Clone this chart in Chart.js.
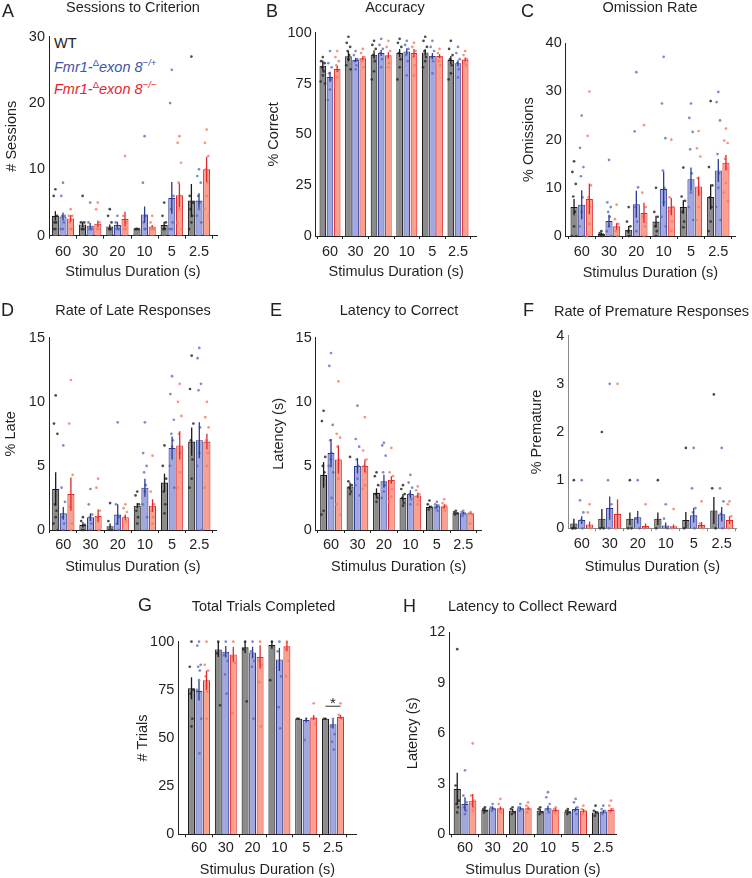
<!DOCTYPE html>
<html><head><meta charset="utf-8">
<script src="https://cdn.jsdelivr.net/npm/chart.js@4.4.1/dist/chart.umd.min.js"></script>
<style>
html,body{margin:0;padding:0;background:#fff}
body{width:752px;height:878px;position:relative;overflow:hidden;font-family:"Liberation Sans",Arial,Helvetica,sans-serif}
canvas{position:absolute}
.letter{position:absolute;font-size:18px;line-height:18px;color:#222}
.leg{position:absolute;font-size:14.5px;line-height:14.5px;white-space:nowrap}
.leg sup{font-size:9.5px;vertical-align:6px;line-height:0}
</style></head><body>
<div class="leg" style="left:54px;top:36px;color:#222">WT</div>
<div class="leg" style="left:54px;top:60px;color:#3d56a8"><i>Fmr1-</i><sup>&Delta;</sup><i>exon 8</i><sup><i>&minus;/+</i></sup></div>
<div class="leg" style="left:54px;top:82px;color:#e3262c"><i>Fmr1-</i><sup>&Delta;</sup><i>exon 8</i><sup><i>&minus;/&minus;</i></sup></div>
<script>
// ---------- data ----------
const durations = ['60', '30', '20', '10', '5', '2.5'];
const genotypes = ['WT', 'Fmr1-\u0394exon 8\u2212/+', 'Fmr1-\u0394exon 8\u2212/\u2212'];

// A: Sessions to criterion  (rows: WT, -/+, -/-)
const sessionsMean = [[3.0,1.7,1.4,1.1,1.6,5.3],[2.9,1.5,1.6,3.2,5.7,5.3],[2.6,1.8,2.5,1.4,6.1,10.0]];
const sessionsSem  = [[0.7,0.4,0.3,0.1,0.5,2.5],[0.6,0.4,0.5,1.2,2.4,1.1],[0.5,0.5,1.1,0.2,1.8,1.9]];
const sessionsDots = [
  [[7,6,3,2,2,1,1],[6,2,2,1,1,1],[4,3,2,1,1,1],[1,1,1,1],[5,3,2,1,1,1],[27,6,5,4,3,2,1]],
  [[8,6,3,3,2,1,1],[5,2,1,1,1],[3,2,1,1,1],[15,8,3,2,1,1],[25,20,6,4,2,1,1],[10,9,8,6,5,4,3,2]],
  [[4,3,3,2,1,1],[5,4,2,1,1],[12,3,2,1,1],[3,2,1,1,1],[15,14,11,8,6,4,2,1],[16,14,12,10,8,6,4,3]]];

// B: Accuracy
const accMean = [[83.8,88.4,89.2,90.0,90.3,86.6],[78.3,86.6,90.0,90.8,88.5,85.0],[82.2,87.4,88.9,90.0,88.5,86.8]];
const accSem  = [[2.5,2.5,2.0,2.0,1.5,2.0],[2.5,1.0,1.5,1.5,1.5,1.5],[1.5,1.0,1.5,2.0,1.0,1.0]];
const accDots = [
  [[88,86,85,83,81,79,76,75],[98,95,93,91,89,87,84,82],[96,94,92,89,86,81,77],[97,95,93,90,87,83,77],[98,96,93,91,88,86,83],[96,92,89,87,84,80,77]],
  [[91,85,83,80,77,72,67],[91,89,87,86,84,82],[97,94,92,90,87,83],[96,94,92,89,86,79],[96,93,91,88,86,80],[93,90,87,85,82,78]],
  [[91,88,86,84,81,78,74],[92,90,88,86,83],[96,93,91,88,85,83],[95,93,91,88,84,79],[92,90,88,86,84],[91,89,87,85,84]]];

// C: Omission rate
const omMean = [[6.0,0.4,1.3,3.0,6.0,8.1],[6.5,3.1,6.6,9.8,11.8,13.6],[7.7,2.0,4.8,6.1,10.3,15.2]];
const omSem  = [[1.7,0.3,0.8,1.2,1.4,2.6],[3.0,1.3,2.8,3.6,2.4,2.4],[3.2,0.7,2.1,1.8,2.0,1.6]];
const omDots = [
  [[15.5,13.3,10.8,8.2,5,2,0,0],[1,0.6,0.3,0,0],[6,3,2,1,0,0],[10,5,4,2,1,0],[14.2,8.2,7.3,5,3,1.8],[28,14.3,10.5,8,6,3,1]],
  [[25,18.3,14.3,12.4,8,5,2,0],[15.8,7,6,5,4,2,1,0],[34,21.7,10.1,6,3,1],[37.2,27.5,20.3,13.6,10,7,4,2],[27.5,24.5,21.6,18,13,9,6,3.3],[29.9,27.8,24,17,13,10,6,3.3]],
  [[30,20.8,10.5,8,6,2.5,0],[6.5,3.5,2.5,1,0],[23,9,6,4,2,0],[20,8,6,5,3,1],[21.8,18.2,16.5,12,9,6,3.3],[22.3,19.8,19.3,16,14,11,9,7.2]]];

// D: Rate of late responses
const lateMean = [[3.2,0.4,0.3,1.9,3.7,6.9],[1.3,1.0,1.2,3.3,6.4,7.0],[2.8,1.1,1.0,1.9,6.6,6.9]];
const lateSem  = [[1.3,0.2,0.2,0.2,0.7,1.1],[0.5,0.3,0.8,0.7,0.9,1.4],[1.3,0.5,0.2,0.5,1.1,0.6]];
const lateDots = [
  [[10.5,8.3,7.5,2,1.5,1,0.5,0],[1,0.7,0.4,0,0],[2.1,0.7,0,0],[3,2.7,2,1.5,1,0.5],[6.6,5,4,3,2,1.3],[13.6,11,8.3,7,5.5,4,3.3]],
  [[6.6,3.3,2.2,1,0.5,0],[3.2,2,1.2,1,0.5,0],[8.4,2,1,0.5,0],[8.4,6,5,4.5,3.5,3,2,1],[12,10.6,8.6,7.5,7,6.5,5,3.3],[14.2,13.4,11.4,10.9,8,6,5,0]],
  [[11.7,8.3,4.3,1.8,0.5,0],[4,3.3,1.5,1,0],[2,1.7,1.4,1,0.7],[5.8,3,2,1.5,1,0.5],[11.4,10,8.9,7.5,6,4.5,3.3],[10,8.8,8,7,6,5,3.3]]];

// E: Latency to correct
const latMean = [[4.3,3.4,2.9,2.5,1.8,1.35],[6.0,5.0,3.8,2.8,1.85,1.3],[5.5,5.0,3.9,2.7,1.85,1.3]];
const latSem  = [[1.0,0.3,0.35,0.3,0.1,0.05],[1.1,0.6,0.5,0.3,0.15,0.1],[1.1,0.5,0.3,0.2,0.15,0.05]];
const latDots = [
  [[9.3,8.5,5.7,5,4.5,1.5,1.2],[5.7,3.8,3.5,3.3,3,2.8],[4.5,4.2,3.5,2.8,2.5,2.2],[3.5,3.2,2.8,2.5,2.1,1.9],[2.3,2,1.8,1.6],[1.5,1.4,1.3,1.2]],
  [[13.8,12.8,8.2,7,6,5.5,5,4.5,2.5],[9.7,7.1,6.5,5.5,5,4,3.5,2.7],[6.8,6.6,5.8,4.5,3.5,3,2.5],[4.3,3.7,3.3,2.8,2.4,2],[2.2,2,1.9,1.7,1.5],[1.5,1.4,1.3,1.1]],
  [[11.6,7.5,7.2,6.5,5.5,4,2,1.2],[8.8,6.2,5.5,5,4.5,3.5,3.2],[6.4,4.5,4.2,3.8,3.2,2.6,2.2],[3.4,3.1,2.8,2.6,2.3,2],[2.4,2.1,1.9,1.7,1.5],[1.4,1.3,1.2,0.5]]];

// F: Rate of premature responses
const preMean = [[0.1,0.2,0.2,0.2,0.17,0.37],[0.17,0.42,0.23,0.06,0.27,0.29],[0.08,0.3,0.05,0.04,0.07,0.17]];
const preSem  = [[0.1,0.2,0.13,0.13,0.17,0.28],[0.08,0.24,0.13,0.06,0.15,0.15],[0.06,0.3,0.05,0.04,0.06,0.08]];
const preDots = [
  [[1,0,0,0],[2,0,0],[1,0,0],[1,0],[1.67,0],[2.78,0.83,0]],
  [[1,0.58,0.33,0.17,0],[3,1,0.5,0],[1,0.2,0],[0.5,0.2,0],[1.67,0.83,0.42,0.33,0],[1.67,0.83,0.56,0.3,0]],
  [[0.5,0.33,0],[3,0],[0.5,0],[0.4,0],[0.56,0.1,0],[0.56,0.5,0.25,0]]];

// G: Total trials completed
const trialsMean = [[75.8,96.0,97.1,98.3,60.0,60.0],[74.5,94.8,94.4,90.8,59.3,57.2],[80.0,93.4,92.1,97.6,60.6,61.0]];
const trialsSem  = [[5.7,4,3,2,0.3,0.4],[5,3,3,6,1.2,2.3],[5,4,6,2.5,1.3,1]];
const trialsDots = [
  [[100,87,75,73,60,56],[100,94,67],[100,96,69],[100,80],[60,60],[60,60]],
  [[100,98,88,87,85,80,75,60,42],[100,93,90,83,73],[100,95,90,87,60],[100,95,82,66,55],[60,49],[60,56,52,48,44]],
  [[100,88,85,82,74,60],[100,92,89,63],[100,90,88,79,56],[100,96,90,82],[68,60,57],[68,62,60]]];
const trialsSig = {category: 5, from: 0, to: 2, value: 66.5, mark: '*'};

// H: Latency to collect reward
const rewMean = [[2.7,1.45,1.4,1.4,1.35,1.3],[1.8,1.55,1.55,1.55,1.5,1.35],[2.0,1.55,1.55,1.45,1.4,1.45]];
const rewSem  = [[0.95,0.1,0.1,0.1,0.1,0.1],[0.4,0.1,0.1,0.15,0.1,0.1],[0.4,0.1,0.1,0.1,0.1,0.1]];
const rewDots = [
  [[11,2.9,2,1.8,1.6,1.3],[1.6,1.5,1.4,1.3],[1.6,1.5,1.3,1.2],[1.6,1.5,1.3,1.2],[1.5,1.4,1.3,1.2],[1.7,1.4,1.3,1.1]],
  [[3.8,2.3,1.9,1.6,1.4,1.2],[1.8,1.6,1.5,1.4],[1.8,1.6,1.5,1.4],[2.5,2.2,1.8,1.5,1.3],[2.1,1.9,1.6,1.4,1.2],[1.7,1.5,1.4,1.2]],
  [[5.4,2.3,2,1.8,1.6,1.4],[2.1,1.8,1.5,1.4,1.3],[1.9,1.7,1.5,1.3],[1.6,1.5,1.4,1.3],[1.7,1.5,1.4,1.2],[2,1.7,1.5,1.3]]];

// ---------- style ----------
const FONT = '"Liberation Sans", Arial, Helvetica, sans-serif';
const FS = 14.5;
const TXT = '#231f20';
const fillColors = ['#8b8b8b', '#a3a7e0', '#f9a18e'];
const edgeColors = ['#1a1a1a', '#2b3a8f', '#e3262c'];
const dotColors  = ['rgba(45,45,45,0.85)', 'rgba(85,100,185,0.75)', 'rgba(242,122,98,0.8)'];

const panels = [
  {letter:'A', title:'Sessions to Criterion', yTitle:'# Sessions', yMax:30, yStep:10, mean:sessionsMean, sem:sessionsSem, dots:sessionsDots,
   box:{axL:49, axR:217, top:36.7, bot:235.7, c0:63, c5:199, titleX:133, titleY:8, tickY:252, xTitleY:272, yTitleX:12}, lp:[2,4]},
  {letter:'B', title:'Accuracy', yTitle:'% Correct', yMax:100, yStep:25, mean:accMean, sem:accSem, dots:accDots,
   box:{axL:315.7, axR:476.7, top:32.7, bot:236, c0:330, c5:458, titleX:395, titleY:8.3, tickY:252, xTitleY:272, yTitleX:273.7}, lp:[266,4]},
  {letter:'C', title:'Omission Rate', yTitle:'% Omissions', yMax:40, yStep:10, mean:omMean, sem:omSem, dots:omDots,
   box:{axL:565.7, axR:735, top:43.3, bot:236, c0:581.7, c5:718.3, titleX:650, titleY:8, tickY:252, xTitleY:272.5, yTitleX:529}, lp:[521,4]},
  {letter:'D', title:'Rate of Late Responses', yTitle:'% Late', yMax:15, yStep:5, mean:lateMean, sem:lateSem, dots:lateDots,
   box:{axL:49, axR:216.7, top:337.7, bot:530, c0:63.3, c5:199.3, titleX:133, titleY:310.7, tickY:545, xTitleY:566.7, yTitleX:11}, lp:[1,303]},
  {letter:'E', title:'Latency to Correct', yTitle:'Latency (s)', yMax:15, yStep:5, mean:latMean, sem:latSem, dots:latDots,
   box:{axL:315.7, axR:481.7, top:337.7, bot:530, c0:331, c5:463.3, titleX:399, titleY:310.7, tickY:545, xTitleY:566.7, yTitleX:279}, lp:[270,303]},
  {letter:'F', title:'Rate of Premature Responses', yTitle:'% Premature', yMax:4, yStep:1, mean:preMean, sem:preSem, dots:preDots, axisColor:'#8a8a8a',
   box:{axL:568.3, axR:736.7, top:335.7, bot:528.3, c0:581.7, c5:721.7, titleX:651.7, titleY:311.7, tickY:544, xTitleY:566.7, yTitleX:536.7}, lp:[523,303]},
  {letter:'G', title:'Total Trials Completed', yTitle:'# Trials', yMax:100, yStep:25, mean:trialsMean, sem:trialsSem, dots:trialsDots, sig:trialsSig,
   box:{axL:178.3, axR:356.7, top:641.7, bot:834.3, c0:199, c5:333, titleX:263.3, titleY:606.7, tickY:848.3, xTitleY:870, yTitleX:143.3}, lp:[138,598]},
  {letter:'H', title:'Latency to Collect Reward', yTitle:'Latency (s)', yMax:12, yStep:3, mean:rewMean, sem:rewSem, dots:rewDots,
   box:{axL:449.3, axR:616.7, top:632.3, bot:834.3, c0:465, c5:603.3, titleX:532.3, titleY:606.7, tickY:848.3, xTitleY:870, yTitleX:412.7}, lp:[403,599]}
];

const jitter = [0, -1.7, 1.7, -0.8, 0.8, 0, -2.2, 2.2, 0.4];

function overlay(p) {
  return {
    id: 'overlay' + p.letter,
    afterDatasetsDraw(chart) {
      const ctx = chart.ctx, ys = chart.scales.y;
      ctx.save();
      for (let k = 0; k < 3; k++) {
        const meta = chart.getDatasetMeta(k);
        meta.data.forEach((bar, i) => {
          ctx.fillStyle = dotColors[k];
          p.dots[k][i].forEach((v, j) => {
            ctx.beginPath();
            ctx.arc(bar.x + jitter[j % jitter.length], ys.getPixelForValue(v), 1.35, 0, Math.PI * 2);
            ctx.fill();
          });
          const m = p.mean[k][i], s = p.sem[k][i];
          ctx.strokeStyle = edgeColors[k];
          ctx.lineWidth = 1.3;
          ctx.beginPath();
          ctx.moveTo(bar.x, ys.getPixelForValue(Math.max(0, m - s)));
          ctx.lineTo(bar.x, ys.getPixelForValue(m + s));
          ctx.stroke();
        });
      }
      if (p.sig) {
        const a = chart.getDatasetMeta(p.sig.from).data[p.sig.category];
        const b = chart.getDatasetMeta(p.sig.to).data[p.sig.category];
        const yy = ys.getPixelForValue(p.sig.value);
        ctx.strokeStyle = '#333'; ctx.lineWidth = 1;
        ctx.beginPath(); ctx.moveTo(a.x, yy); ctx.lineTo(b.x, yy); ctx.stroke();
        ctx.fillStyle = TXT; ctx.font = '15px ' + FONT; ctx.textAlign = 'center'; ctx.textBaseline = 'alphabetic';
        ctx.fillText(p.sig.mark, (a.x + b.x) / 2, yy + 1.5);
      }
      ctx.restore();
    }
  };
}

const lh = FS * 1.2;
panels.forEach(p => {
  const b = p.box;
  const sp = (b.c5 - b.c0) / 5;
  const xMin = -(b.c0 - b.axL) / sp, xMax = 5 + (b.axR - b.c5) / sp;
  const cl = Math.floor(b.yTitleX - lh / 2);
  const ct = Math.floor(b.titleY - lh / 2);
  const W = Math.max(Math.round(2 * (b.titleX - cl)), Math.ceil(b.axR - cl) + 2);
  const H = Math.ceil(b.xTitleY + lh / 2 - ct) + 1;
  const yAxisW = b.axL - cl;
  const rightW = cl + W - b.axR;
  const titleTop = b.titleY - lh / 2 - ct;
  const titleBottom = b.top - b.titleY - lh / 2;
  const xAxisH = ct + H - b.bot;
  const xTitlePadBottom = ct + H - (b.xTitleY + lh / 2);
  const xTickPad = b.tickY - b.bot - 3 - lh / 2;
  const axisColor = p.axisColor || '#222';

  const cv = document.createElement('canvas');
  cv.width = W; cv.height = H;
  cv.style.left = cl + 'px'; cv.style.top = ct + 'px';
  cv.style.width = W + 'px'; cv.style.height = H + 'px';
  document.body.appendChild(cv);

  const L = document.createElement('div');
  L.className = 'letter'; L.textContent = p.letter;
  L.style.left = p.lp[0] + 'px'; L.style.top = (p.lp[1] - 2.3) + 'px';
  document.body.appendChild(L);

  new Chart(cv, {
    type: 'bar',
    data: {
      datasets: genotypes.map((g, k) => ({
        label: g,
        data: p.mean[k].map((v, i) => ({x: i, y: v})),
        backgroundColor: fillColors[k],
        borderColor: edgeColors[k],
        borderWidth: 1.1,
        barPercentage: 0.93,
        categoryPercentage: 0.84
      }))
    },
    options: {
      responsive: false, animation: false, devicePixelRatio: 1,
      layout: {padding: 0},
      plugins: {
        legend: {display: false}, tooltip: {enabled: false},
        title: {display: true, text: p.title, color: TXT, font: {family: FONT, size: FS, weight: 'normal'},
                padding: {top: titleTop, bottom: titleBottom}}
      },
      scales: {
        x: {
          type: 'linear', position: 'bottom', min: xMin, max: xMax, offset: false,
          afterBuildTicks: s => { s.ticks = durations.map((d, i) => ({value: i})); },
          afterFit: s => { s.height = xAxisH; },
          grid: {display: true, drawOnChartArea: false, drawTicks: true, tickLength: 3, color: axisColor, lineWidth: 1},
          border: {display: true, color: axisColor, width: 1},
          ticks: {autoSkip: false, maxRotation: 0, padding: xTickPad, color: TXT, font: {family: FONT, size: FS},
                  callback: v => (durations[v] !== undefined ? durations[v] : '')},
          title: {display: true, text: 'Stimulus Duration (s)', color: TXT, font: {family: FONT, size: FS},
                  padding: {top: 0, bottom: xTitlePadBottom}}
        },
        y: {
          type: 'linear', position: 'left', min: 0, max: p.yMax,
          afterFit: s => { s.width = yAxisW; },
          grid: {display: false, drawTicks: false},
          border: {display: true, color: axisColor, width: 1},
          ticks: {stepSize: p.yStep, padding: 4, color: TXT, font: {family: FONT, size: FS}},
          title: {display: true, text: p.yTitle, color: TXT, font: {family: FONT, size: FS}, padding: 0}
        },
        yPad: {
          type: 'linear', position: 'right', display: true,
          afterFit: s => { s.width = rightW; },
          grid: {display: false, drawTicks: false}, border: {display: false},
          ticks: {display: false}
        }
      }
    },
    plugins: [overlay(p)]
  });
});
</script>
</body></html>
